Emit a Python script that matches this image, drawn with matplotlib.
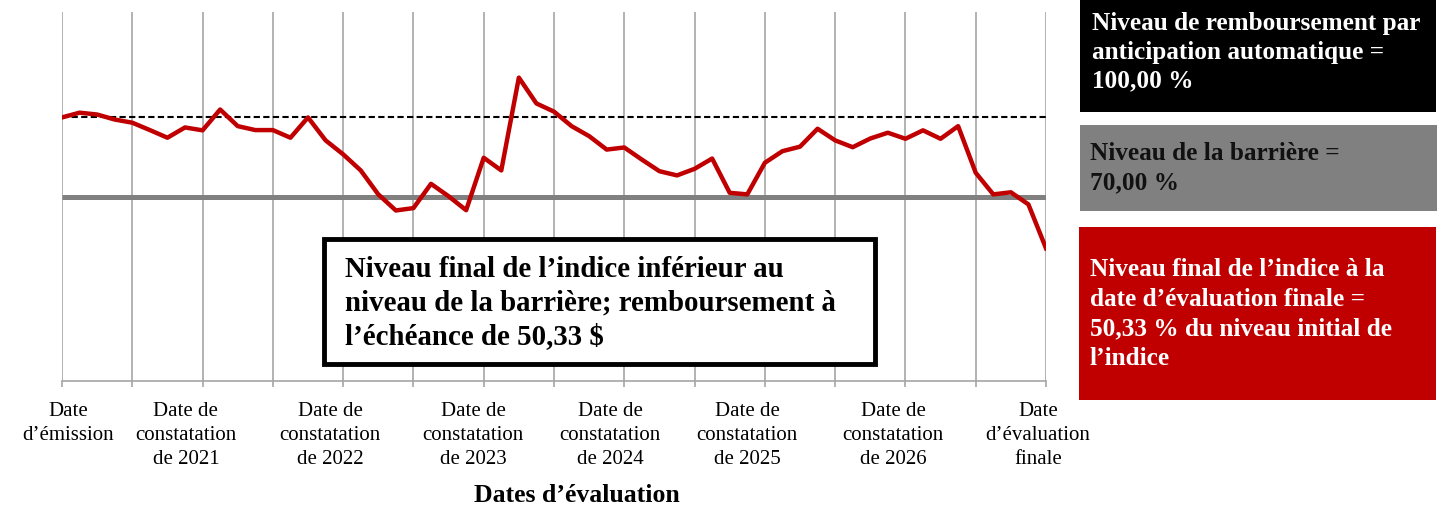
import matplotlib.pyplot as plt
from matplotlib.patches import Rectangle

plt.rcParams['font.family'] = ['Liberation Serif', 'DejaVu Serif']

# index level (% of initial level), one point per evaluation step
index_level = [100.0, 101.8, 101.1, 99.2, 98.0, 95.2, 92.3, 96.2, 95.1, 103.0,
               96.7, 95.2, 95.2, 92.3, 100.0, 91.3, 86.0, 79.9, 70.8, 64.7,
               65.6, 74.8, 70.1, 64.8, 84.7, 79.9, 115.1, 105.3, 102.2, 96.7,
               92.9, 87.8, 88.6, 84.0, 79.6, 78.0, 80.5, 84.4, 71.4, 70.8,
               82.8, 87.2, 88.9, 95.7, 91.3, 88.7, 92.0, 94.2, 91.9, 95.1,
               91.9, 96.7, 79.0, 70.8, 71.6, 67.0, 50.33]
autocall_level = 100.0
barrier_level = 70.0

date_labels = ["Date\nd\u2019émission",
               "Date de\nconstatation\nde 2021",
               "Date de\nconstatation\nde 2022",
               "Date de\nconstatation\nde 2023",
               "Date de\nconstatation\nde 2024",
               "Date de\nconstatation\nde 2025",
               "Date de\nconstatation\nde 2026",
               "Date\nd\u2019évaluation\nfinale"]
label_pos = [0.35, 7.05, 15.25, 23.4, 31.2, 39.0, 47.3, 55.55]

W, H = 1440, 508
fig = plt.figure(figsize=(W / 100, H / 100), dpi=100)
ax = fig.add_axes([62 / W, 1 - 381 / H, 984 / W, 369 / H])

steps = list(range(len(index_level)))
n = len(index_level) - 1
ax.plot([0, n], [barrier_level, barrier_level], color='#808080', lw=3.6,
        solid_capstyle='butt', zorder=3)
ax.plot([0, n], [autocall_level, autocall_level], color='black', lw=1.5,
        dashes=(3, 1.6), zorder=3)
ax.plot(steps, index_level, color='#c00000', lw=3.2, zorder=4)

ax.set_xlim(0, n)
ax.set_ylim(0, 140)
ax.set_yticks([])
ax.set_xticks(range(0, n + 1, 4), minor=True)
ax.set_xticks(label_pos)
ax.set_xticklabels(date_labels, fontsize=15, linespacing=1.38)
ax.tick_params(axis='x', which='major', length=0, pad=15)
ax.tick_params(axis='x', which='minor', length=4, width=1.2, color='#a6a6a6')
ax.grid(True, which='minor', axis='x', color='#a6a6a6', lw=1.2)
for s in ['top', 'left', 'right']:
    ax.spines[s].set_visible(False)
ax.spines['bottom'].set_color('#a6a6a6')
ax.spines['bottom'].set_linewidth(1.2)

fig.text(577 / W, 1 - 496 / H, "Dates d\u2019évaluation", fontsize=18.5,
         fontweight='bold', ha='center', va='center')


def box(x0, y0, x1, y1, face, edge=None, lw=0):
    fig.add_artist(Rectangle((x0 / W, 1 - y1 / H), (x1 - x0) / W, (y1 - y0) / H,
                             transform=fig.transFigure, facecolor=face,
                             edgecolor=edge if edge else face, linewidth=lw,
                             zorder=5))


# note box inside the plot
box(324, 239, 875, 364, 'white', 'black', 3.5)
fig.text(345 / W, 1 - 303 / H,
         "Niveau final de l\u2019indice inférieur au\nniveau de la barrière; remboursement à\nl\u2019échéance de 50,33 $",
         fontsize=20.8, fontweight='bold', ha='left', va='center',
         linespacing=1.3, zorder=6)

# side legend boxes
box(1080, 0, 1436, 112, 'black')
fig.text(1092 / W, 1 - 52 / H,
         "Niveau de remboursement par\nanticipation automatique =\n100,00 %",
         fontsize=18.2, fontweight='bold', color='white', ha='left',
         va='center', linespacing=1.33, zorder=6)

box(1080, 125, 1437, 211, '#808080')
fig.text(1090 / W, 1 - 168 / H, "Niveau de la barrière =\n70,00 %",
         fontsize=18.2, fontweight='bold', color='#111111', ha='left',
         va='center', linespacing=1.38, zorder=6)

box(1079, 227, 1436, 400, '#c00000')
fig.text(1090 / W, 1 - 314 / H,
         "Niveau final de l\u2019indice à la\ndate d\u2019évaluation finale =\n50,33 % du niveau initial de\nl\u2019indice",
         fontsize=18.2, fontweight='bold', color='white', ha='left',
         va='center', linespacing=1.38, zorder=6)

fig.savefig('out.png', dpi=100)
